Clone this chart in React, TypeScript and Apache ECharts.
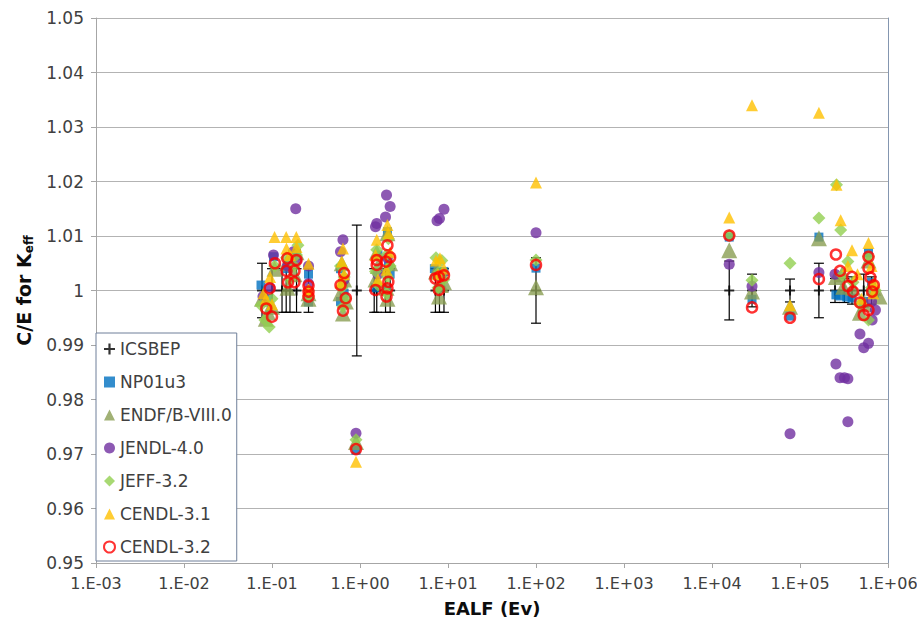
import React, { useEffect, useRef } from "react";
import * as echarts from "echarts";

// x: EALF (eV), y: C/E, err: experimental uncertainty
const ICSBEP: number[][] = [
  [0.077, 1, 0.005], [0.1, 1, 0.004], [0.13, 1, 0.004], [0.145, 1, 0.004], [0.16, 1, 0.004], [0.19, 1, 0.004], [0.26, 1, 0.004],
  [0.92, 1, 0.012],
  [1.45, 1, 0.004], [1.55, 1, 0.004], [1.95, 1, 0.004], [2.2, 1, 0.004],
  [7.2, 1, 0.004], [8.0, 1, 0.004], [9.0, 1, 0.004],
  [100, 1, 0.006],
  [1.57e4, 1, 0.0054], [2.85e4, 1, 0.003], [7.7e4, 1, 0.0021], [1.64e5, 1, 0.005],
  [2.5e5, 1, 0.0022], [3.2e5, 1, 0.0022], [3.9e5, 1, 0.0025], [5.3e5, 1, 0.003], [6.5e5, 1, 0.0025],
];

const NP01U3: number[][] = [
  [0.075, 1.001], [0.26, 0.9979], [0.104, 1.0062], [0.19, 1.0068], [0.15, 1.004], [0.09, 0.9985], [0.26, 1.003], [0.17, 1.0055],
  [0.6, 1.004], [0.64, 1.0012], [0.66, 0.9995], [0.6, 0.998], [0.9, 0.9707],
  [2.05, 1.0108], [1.5, 1.0005], [2.1, 1.0045], [1.6, 1.0065], [2.0, 1.0], [2.2, 1.003],
  [7.0, 1.004], [8.5, 1.0025], [7.9, 1.0005], [9.0, 1.0035],
  [100, 1.0041],
  [1.57e4, 1.0098], [2.85e4, 0.9984], [7.7e4, 0.9953], [1.64e5, 1.0098],
  [2.56e5, 0.9992], [2.85e5, 0.999], [3.9e5, 0.9986], [6.0e5, 1.0069], [5.3e5, 0.998], [6.5e5, 1.0015], [7.0e5, 0.9995], [3.4e5, 0.9988],
];

const ENDF: number[][] = [
  [0.077, 0.9985], [0.09, 0.996], [0.1, 0.997], [0.146, 1.005], [0.18, 1.003], [0.19, 1.007], [0.26, 0.9995], [0.26, 0.9985], [0.107, 1.004], [0.15, 1.0005], [0.085, 0.9948],
  [0.62, 1.005], [0.66, 1.002], [0.6, 0.9995], [0.69, 0.998], [0.64, 0.9958], [0.9, 0.9722],
  [2.05, 1.0105], [1.55, 1.007], [2.2, 1.005], [1.5, 1.002], [2.05, 0.9985], [1.6, 1.0045], [2.0, 1.0005],
  [7.9, 0.9989], [7.3, 1.0035], [9.0, 1.0015], [8.3, 1.001],
  [100, 1.0006],
  [1.57e4, 1.0074], [2.85e4, 0.9998], [7.7e4, 0.997], [1.64e5, 1.0096],
  [2.56e5, 1.0025], [3.1e5, 1.0007], [4.8e5, 0.9959], [8.0e5, 0.9989], [3.0e5, 1.003], [6.0e5, 1.0055], [4.0e5, 1.0005], [6.8e5, 1.0005], [5.5e5, 0.9975],
];

const JENDL: number[][] = [
  [0.186, 1.015], [0.104, 1.0065], [0.079, 0.9989], [0.26, 1.0013], [0.175, 1.0071], [0.15, 1.0045], [0.095, 1.0005], [0.26, 1.0045], [0.19, 1.0055],
  [0.64, 1.0093], [0.6, 1.0071], [0.66, 1.002], [0.9, 0.9738],
  [2.0, 1.0175], [2.2, 1.0154], [1.95, 1.0135], [1.55, 1.0123], [1.5, 1.0117], [2.05, 1.006], [1.6, 1.003],
  [9.0, 1.0149], [7.5, 1.0128], [8.0, 1.0132], [8.5, 1.003],
  [100, 1.0106],
  [1.57e4, 1.0048], [2.85e4, 1.0008], [7.7e4, 0.9737], [1.64e5, 1.0033],
  [4.8e5, 0.992], [5.3e5, 0.9895], [6.0e5, 0.9903], [2.56e5, 0.9865], [2.85e5, 0.984], [3.2e5, 0.984], [3.5e5, 0.9838], [3.5e5, 0.9759], [7.2e5, 0.9964], [6.6e5, 0.9946], [6.5e5, 0.998], [2.5e5, 1.003],
];

const JEFF: number[][] = [
  [0.197, 1.0083], [0.083, 0.9946], [0.093, 0.9933], [0.075, 0.9973], [0.146, 1.006], [0.18, 1.0045], [0.107, 1.0045], [0.26, 1.0], [0.26, 0.999], [0.16, 1.002], [0.1, 0.9985], [0.19, 1.0065],
  [0.6, 1.0045], [0.66, 1.0025], [0.62, 1.0005], [0.69, 0.9985], [0.64, 0.997], [0.9, 0.9726],
  [2.1, 1.0095], [1.55, 1.0075], [2.0, 1.0065], [1.5, 1.0035], [2.2, 1.0045], [2.05, 1.0025], [1.6, 1.001], [2.0, 0.9995],
  [7.3, 1.006], [8.5, 1.0055], [8.0, 1.0035], [9.0, 1.002], [7.7, 1.0005],
  [100, 1.0056],
  [1.57e4, 1.0101], [2.85e4, 1.0019], [7.7e4, 1.005], [1.64e5, 1.0133],
  [2.6e5, 1.0194], [2.9e5, 1.0111], [3.5e5, 1.0053], [6.0e5, 1.0062], [4.0e5, 1.0015], [6.0e5, 0.9946], [6.5e5, 1.0005], [4.8e5, 0.9975], [7.2e5, 1.0], [3.0e5, 1.0028],
];

const CENDL31: number[][] = [
  [0.107, 1.0098], [0.145, 1.0098], [0.189, 1.0098], [0.26, 1.0049], [0.095, 1.0025], [0.146, 1.0077], [0.19, 1.008], [0.26, 1.0002], [0.08, 0.9995], [0.1, 0.9975], [0.16, 1.0065], [0.085, 0.9985],
  [0.64, 1.0077], [0.62, 1.0053], [0.66, 1.003], [0.6, 1.0015], [0.9, 0.9686],
  [2.05, 1.012], [1.55, 1.0093], [2.1, 1.0105], [1.5, 1.0065], [2.0, 1.0038], [2.2, 1.007], [1.6, 1.002],
  [8.1, 1.0059], [7.3, 1.0055], [9.0, 1.004], [7.7, 1.003],
  [100, 1.0198],
  [1.57e4, 1.0134], [2.85e4, 1.034], [7.7e4, 0.9973], [1.64e5, 1.0326],
  [2.6e5, 1.0194], [2.9e5, 1.0129], [3.9e5, 1.0074], [6.0e5, 1.0087], [3.5e5, 1.0045], [4.5e5, 1.003], [6.5e5, 1.0045], [7.0e5, 1.0015], [5.0e5, 0.9985], [6.8e5, 0.9995],
];

const CENDL32: number[][] = [
  [0.108, 1.005], [0.149, 1.0059], [0.19, 1.0056], [0.146, 1.0036], [0.18, 1.0036], [0.152, 1.0015], [0.18, 1.0015], [0.094, 1.0004], [0.26, 1.0009], [0.26, 0.9998], [0.26, 0.9989], [0.086, 0.9967], [0.1, 0.9952],
  [0.66, 1.0032], [0.6, 1.001], [0.69, 0.9986], [0.64, 0.9963], [0.9, 0.9709],
  [2.05, 1.0083], [2.2, 1.0061], [1.55, 1.0056], [1.55, 1.0047], [1.97, 1.0053], [1.5, 1.0001], [2.1, 1.0016], [2.05, 1.0004], [2.0, 0.9989],
  [7.9, 1.0025], [9.0, 1.0028], [7.2, 1.0022], [7.9, 1.0001],
  [100, 1.0047],
  [1.57e4, 1.0101], [2.85e4, 0.9969], [7.7e4, 0.995], [1.64e5, 1.0021],
  [2.56e5, 1.0066], [2.85e5, 1.0036], [3.9e5, 1.0025], [3.5e5, 1.0008], [4.0e5, 0.9998], [4.8e5, 0.9978], [5.3e5, 0.9955], [6.0e5, 0.9964], [6.0e5, 1.0062], [6.0e5, 1.0041], [6.3e5, 1.0024], [6.9e5, 1.001], [6.6e5, 0.9998],
];

const SERIES_NAMES = ["ICSBEP", "NP01u3", "ENDF/B-VIII.0", "JENDL-4.0", "JEFF-3.2", "CENDL-3.1", "CENDL-3.2"];

const FONT = "'DejaVu Sans', sans-serif";
const PLUS = "path://M4,0H6V4H10V6H6V10H4V6H0V4H4Z";

function xLabel(v: number): string {
  const e = Math.round(Math.log10(v));
  const a = Math.abs(e);
  return "1.E" + (e < 0 ? "-" : "+") + (a < 10 ? "0" + a : String(a));
}

export default function App() {
  const ref = useRef<HTMLDivElement>(null);
  useEffect(() => {
    if (!ref.current) return;
    const chart = echarts.init(ref.current, undefined, { renderer: "svg" });
    const option: any = {
      animation: false,
      backgroundColor: "#ffffff",
      grid: { left: 96, right: 29, top: 18, bottom: 63, containLabel: false, outerBoundsMode: "none" },
      xAxis: {
        type: "log",
        logBase: 10,
        min: 0.001,
        max: 1e6,
        splitNumber: 9,
        name: "EALF (Ev)",
        nameLocation: "middle",
        nameGap: 36,
        nameTextStyle: { fontFamily: FONT, fontWeight: "bold", fontSize: 18, color: "#0d0d0d" },
        axisLine: { show: true, onZero: false, lineStyle: { color: "#a6a6a6", width: 1 } },
        axisTick: { show: true, length: 5, lineStyle: { color: "#a6a6a6" } },
        minorTick: { show: false },
        splitLine: { show: false },
        axisLabel: { formatter: xLabel, fontFamily: FONT, fontSize: 16, color: "#404040", margin: 12, showMinLabel: true, showMaxLabel: true },
      },
      yAxis: [
        {
          type: "value",
          min: 0.95,
          max: 1.05,
          interval: 0.01,
          name: "C/E for K{sub|eff}",
          nameLocation: "middle",
          nameGap: 56,
          nameTextStyle: {
            fontFamily: FONT, fontWeight: "bold", fontSize: 19, color: "#0d0d0d", lineHeight: 22,
            rich: { sub: { fontFamily: FONT, fontWeight: "bold", fontSize: 12, color: "#0d0d0d", lineHeight: 11, verticalAlign: "bottom" } },
          },
          axisLine: { show: true, lineStyle: { color: "#a6a6a6" } },
          axisTick: { show: true, length: 5, lineStyle: { color: "#a6a6a6" } },
          splitLine: { show: true, lineStyle: { color: "#b3b3b3", width: 1 } },
          axisLabel: {
            formatter: (v: number) => String(Math.round(v * 100) / 100),
            fontFamily: FONT, fontSize: 17, color: "#404040", margin: 12,
          },
        },
        {
          type: "value",
          position: "right",
          min: 0.95,
          max: 1.05,
          interval: 0.01,
          axisLine: { show: true, lineStyle: { color: "#8496b0" } },
          axisTick: { show: false },
          axisLabel: { show: false },
          splitLine: { show: false },
        },
      ],
      legend: {
        data: SERIES_NAMES,
        orient: "vertical",
        left: 96,
        top: 333,
        backgroundColor: "#ffffff",
        borderColor: "#6f7f99",
        borderWidth: 1,
        borderRadius: 0,
        padding: [6, 5, 4, 7],
        itemWidth: 11,
        itemHeight: 11,
        itemGap: 13,
        textStyle: { fontFamily: FONT, fontSize: 17, color: "#404040", lineHeight: 20 },
        z: 10,
      },
      series: [
        {
          type: "custom",
          name: "errbars",
          data: ICSBEP,
          encode: { x: 0, y: 1 },
          z: 1,
          renderItem: (params: any, api: any) => {
            const x = api.value(0);
            const y = api.value(1);
            const e = api.value(2);
            const top = api.coord([x, y + e]);
            const bot = api.coord([x, y - e]);
            const st = { stroke: "#000", lineWidth: 1.2 };
            return {
              type: "group",
              children: [
                { type: "line", shape: { x1: top[0], y1: top[1], x2: bot[0], y2: bot[1] }, style: st },
                { type: "line", shape: { x1: top[0] - 5, y1: top[1], x2: top[0] + 5, y2: top[1] }, style: st },
                { type: "line", shape: { x1: bot[0] - 5, y1: bot[1], x2: bot[0] + 5, y2: bot[1] }, style: st },
              ],
            };
          },
        },
        {
          type: "scatter", name: "ICSBEP", data: ICSBEP.map((d) => [d[0], d[1]]),
          symbol: PLUS, symbolSize: 10, itemStyle: { color: "#000" }, z: 2,
        },
        {
          type: "scatter", name: "NP01u3", data: NP01U3,
          symbol: "rect", symbolSize: 9, itemStyle: { color: "#0070C0" }, z: 2,
        },
        {
          type: "scatter", name: "ENDF/B-VIII.0", data: ENDF,
          symbol: "triangle", symbolSize: 16, itemStyle: { color: "#8A9D52" }, z: 2,
        },
        {
          type: "scatter", name: "JENDL-4.0", data: JENDL,
          symbol: "circle", symbolSize: 11, itemStyle: { color: "#7030A0" }, z: 2,
        },
        {
          type: "scatter", name: "JEFF-3.2", data: JEFF,
          symbol: "diamond", symbolSize: 13, itemStyle: { color: "#92D050" }, z: 2,
        },
        {
          type: "scatter", name: "CENDL-3.1", data: CENDL31,
          symbol: "triangle", symbolSize: 12, itemStyle: { color: "#FFC000" }, z: 2,
        },
        {
          type: "scatter", name: "CENDL-3.2", data: CENDL32,
          symbol: "circle", symbolSize: 10,
          itemStyle: { color: "rgba(255,255,255,0)", borderColor: "#FF0000", borderWidth: 2.5 }, z: 2,
        },
      ],
    };
    chart.setOption(option);
    return () => chart.dispose();
  }, []);
  return <div ref={ref} style={{ width: 917, height: 626, position: "absolute", left: 0, top: 0 }} />;
}
